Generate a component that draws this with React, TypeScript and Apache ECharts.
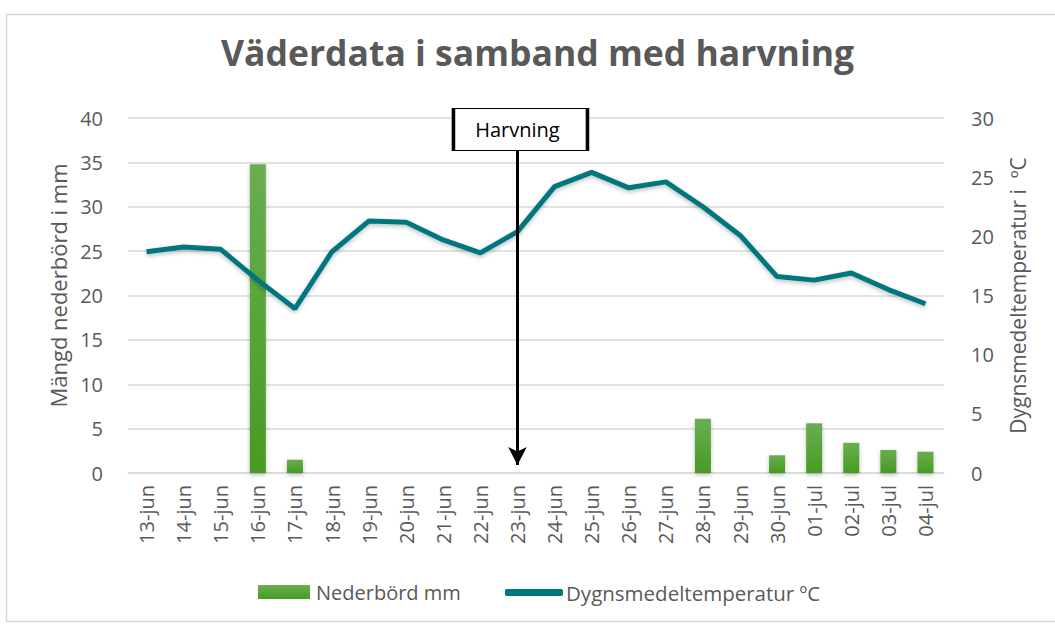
import React, { useEffect, useRef } from "react";
import * as echarts from "echarts";

const categories = [
  "13-jun", "14-jun", "15-jun", "16-jun", "17-jun", "18-jun", "19-jun", "20-jun",
  "21-jun", "22-jun", "23-jun", "24-jun", "25-jun", "26-jun", "27-jun", "28-jun",
  "29-jun", "30-jun", "01-jul", "02-jul", "03-jul", "04-jul",
];
const precipitation = [
  0, 0, 0, 34.8, 1.5, 0, 0, 0, 0, 0, 0, 0, 0, 0, 0, 6.1, 0, 2.0, 5.6, 3.4, 2.6, 2.4,
];
const temperature = [
  18.7, 19.1, 18.9, 16.3, 13.9, 18.7, 21.3, 21.2, 19.7, 18.6, 20.4, 24.2, 25.4, 24.1,
  24.6, 22.5, 20.1, 16.6, 16.3, 16.9, 15.5, 14.3,
];
const harvestDay = "23-jun";
const harvestLabel = "Harvning";

const FONT = "Open Sans";
const GRAY = "#595959";
const TEAL = "#00767e";

export default function App() {
  const ref = useRef<HTMLDivElement>(null);
  useEffect(() => {
    if (!ref.current) return;
    const chart = echarts.init(ref.current, null, { renderer: "svg" });
    chart.setOption({
      animation: false,
      backgroundColor: "#ffffff",
      textStyle: { fontFamily: FONT },
      title: {
        text: "Väderdata i samband med harvning",
        left: 221,
        top: 34,
        padding: 0,
        textStyle: { fontFamily: FONT, fontSize: 35.5, fontWeight: "bold", color: GRAY },
      },
      graphic: [
        {
          type: "rect",
          left: 4,
          top: 12,
          shape: { width: 1070, height: 607 },
          style: { fill: "none", stroke: "#d9d9d9", lineWidth: 1.5 },
          silent: true,
        },
      ],
      legend: [
        {
          left: 253,
          top: 577,
          itemWidth: 52,
          itemHeight: 14,
          itemGap: 4,
          textStyle: { fontFamily: FONT, fontSize: 20, color: GRAY, padding: [0, 0, 0, 1] },
          data: [{ name: "Nederbörd mm", icon: "rect" }],
        },
        {
          left: 500,
          top: 577,
          itemWidth: 58,
          itemHeight: 7,
          textStyle: { fontFamily: FONT, fontSize: 20.5, color: GRAY, padding: [0, 0, 0, -2] },
          data: [{ name: "Dygnsmedeltemperatur ºC", icon: "roundRect", itemStyle: { color: TEAL } }],
        },
      ],
      grid: { left: 128, right: 111, top: 118, bottom: 151 },
      xAxis: {
        type: "category",
        data: categories,
        axisTick: { show: false },
        axisLine: { lineStyle: { color: "#d9d9d9", width: 1.5 } },
        axisLabel: { rotate: 90, color: GRAY, fontSize: 20, fontFamily: FONT, margin: 12 },
      },
      yAxis: [
        {
          type: "value",
          min: 0,
          max: 40,
          interval: 5,
          name: "Mängd nederbörd i mm",
          nameLocation: "middle",
          nameGap: 54,
          nameTextStyle: { color: GRAY, fontSize: 22, fontFamily: FONT, padding: [0, 0, 0, 20] },
          axisLabel: { color: GRAY, fontSize: 20, fontFamily: FONT, margin: 25 },
          splitLine: { lineStyle: { color: "#d9d9d9", width: 1.5 } },
        },
        {
          type: "value",
          min: 0,
          max: 30,
          interval: 5,
          name: "Dygnsmedeltemperatur i  ºC",
          nameLocation: "middle",
          nameGap: 63,
          nameRotate: 90,
          nameTextStyle: { color: GRAY, fontSize: 21, fontFamily: FONT },
          axisLabel: { color: GRAY, fontSize: 20, fontFamily: FONT, margin: 27 },
          splitLine: { show: false },
        },
      ],
      series: [
        {
          name: "Nederbörd mm",
          type: "bar",
          yAxisIndex: 0,
          data: precipitation,
          barWidth: 16,
          itemStyle: {
            color: new echarts.graphic.LinearGradient(0, 0, 0, 1, [
              { offset: 0, color: "#6aad52" },
              { offset: 1, color: "#479b22" },
            ]),
            shadowColor: "rgba(0,0,0,0.25)",
            shadowBlur: 4,
            shadowOffsetY: 2,
          },
          markLine: {
            silent: true,
            symbol: ["none", "arrow"],
            symbolSize: [14, 18],
            label: { show: false },
            lineStyle: { color: "#000000", width: 3, type: "solid" },
            data: [[{ coord: [harvestDay, 36.3] }, { coord: [harvestDay, 0.9] }]],
          },
          markPoint: {
            silent: true,
            symbol: "rect",
            symbolSize: [134, 42],
            symbolOffset: [3, 0],
            itemStyle: { color: "#ffffff", borderColor: "#000000", borderWidth: 2 },
            label: {
              show: true,
              formatter: harvestLabel,
              color: "#000000",
              fontSize: 20,
              fontFamily: FONT,
              offset: [-3, 0],
            },
            data: [{ coord: [harvestDay, 38.7] }],
          },
        },
        {
          name: "Dygnsmedeltemperatur ºC",
          type: "line",
          yAxisIndex: 1,
          data: temperature,
          symbol: "none",
          lineStyle: {
            color: TEAL,
            width: 5,
            shadowColor: "rgba(0,0,0,0.25)",
            shadowBlur: 4,
            shadowOffsetY: 2,
          },
          itemStyle: { color: TEAL },
          z: 3,
        },
      ],
    });
    return () => chart.dispose();
  }, []);
  return (
    <div
      ref={ref}
      style={{ position: "fixed", left: 0, top: 0, width: 1055, height: 624 }}
    />
  );
}
